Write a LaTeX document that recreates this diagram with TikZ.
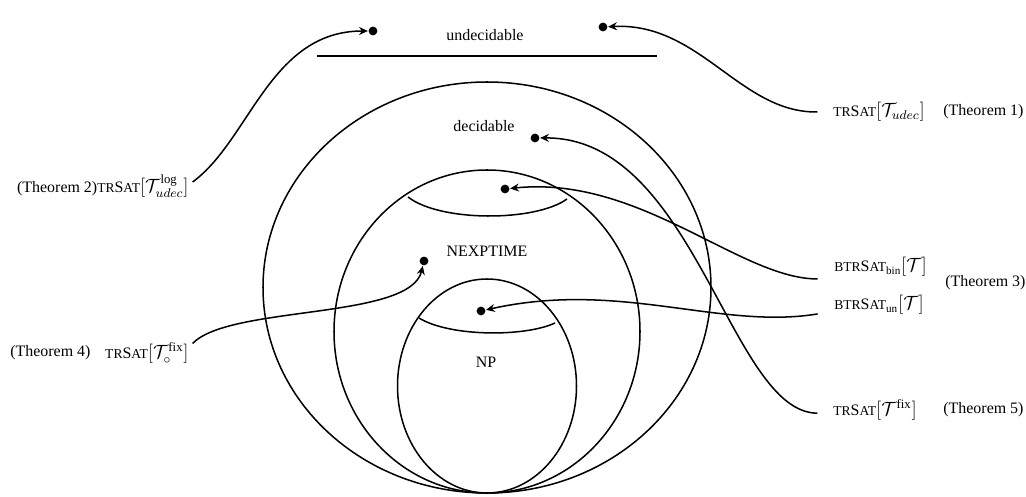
\documentclass[tikz,border=0pt]{standalone}
\usepackage{amsmath}
\usepackage{fontspec}
\setmainfont{Liberation Serif}
\usetikzlibrary{arrows.meta}
\newcommand\fakesc[1]{{\fontsize{8.5}{10}\selectfont #1}}
\newcommand\trsatname{\fakesc{TR}S\fakesc{AT}}
\newcommand\btrsatname{\fakesc{BTR}S\fakesc{AT}}
\newcommand\lmath[1]{{\fontsize{12}{14}\selectfont$#1$}}
\begin{document}
\begin{tikzpicture}[x=0.627pt,y=-0.627pt, line width=0.95pt,
  >={Stealth[length=5.5pt,width=5pt]},
  dot/.style={circle,fill,inner sep=0pt,minimum size=5.5pt},
  lbl/.style={inner sep=1pt, font=\fontsize{10}{12}\selectfont},
  link/.style={->}]
\path[use as bounding box] (0,0) rectangle (1026,497);

% sets
\draw (487,287.5) ellipse [x radius=224, y radius=205.5];
\draw (487,331.5) ellipse [x radius=153, y radius=161.5];
\draw (487,386) ellipse [x radius=89.5, y radius=107];
\draw (408,197) .. controls (440,222) and (535,222) .. (567,199);
\draw (419,318) .. controls (450,337) and (525,337) .. (555,323);

% undecidable bar
\coordinate (barL) at (317,56);
\coordinate (barR) at (657,56);
\draw (barL) -- (barR);

% class names
\node[lbl] (undec) at (485,35) {undecidable};
\node[lbl] (dec) at (484,126) {decidable};
\node[lbl] (nexp) at (487,251) {NEXPTIME};
\node[lbl] (np) at (486,362) {NP};

% dots
\node[dot] (dU1) at (373,31) {};
\node[dot] (dU2) at (603,27) {};
\node[dot] (dDec) at (535,138) {};
\node[dot] (dNexTop) at (505,189) {};
\node[dot] (dNex) at (424,261) {};
\node[dot] (dNP) at (481,311) {};

% left labels
\node[lbl,anchor=east] (l2) at (191,186) {(Theorem 2)\trsatname\lmath{[\mathcal{T}^{\text{log}}_{udec}]}};
\node[lbl,anchor=west] (th4) at (8,353) {(Theorem 4)};
\node[lbl,anchor=east] (l4) at (191,353) {\trsatname\lmath{[\mathcal{T}^{\text{fix}}_{\circ}]}};

% right labels
\node[lbl,anchor=west] (l1) at (831,112) {\trsatname\lmath{[\mathcal{T}_{udec}]}};
\node[lbl,anchor=west] (th1) at (941,112) {(Theorem 1)};
\node[lbl,anchor=west] (lbin) at (832,267) {\btrsatname$_{\text{bin}}$\lmath{[\mathcal{T}]}};
\node[lbl,anchor=west] (lun) at (832,305) {\btrsatname$_{\text{un}}$\lmath{[\mathcal{T}]}};
\node[lbl,anchor=west] (th3) at (943,283) {(Theorem 3)};
\node[lbl,anchor=west] (l5) at (831,410) {\trsatname\lmath{[\mathcal{T}^{\text{fix}}]}};
\node[lbl,anchor=west] (th5) at (941,410) {(Theorem 5)};

% connectors
\draw[link] ([xshift=1pt,yshift=2.5pt]l2.east) .. controls (250,140) and (270,31) .. (dU1);
\draw[link] ([xshift=-8.5pt]l1.west) .. controls (740,113) and (700,22) .. (dU2);
\draw[link] ([xshift=-8.5pt,yshift=-2pt]l5.west) .. controls (730,413) and (695,137) .. (dDec);
\draw[link] ([xshift=-9pt,yshift=-7.5pt]lbin.west) .. controls (740,279) and (640,175) .. (dNexTop);
\draw[link] ([xshift=-9pt,yshift=-5.6pt]lun.west) .. controls (720,330) and (620,280) .. (dNP);
\draw[link] ([xshift=1pt,yshift=6pt]l4.east) .. controls (230,305) and (410,320) .. (dNex);
\end{tikzpicture}
\end{document}
